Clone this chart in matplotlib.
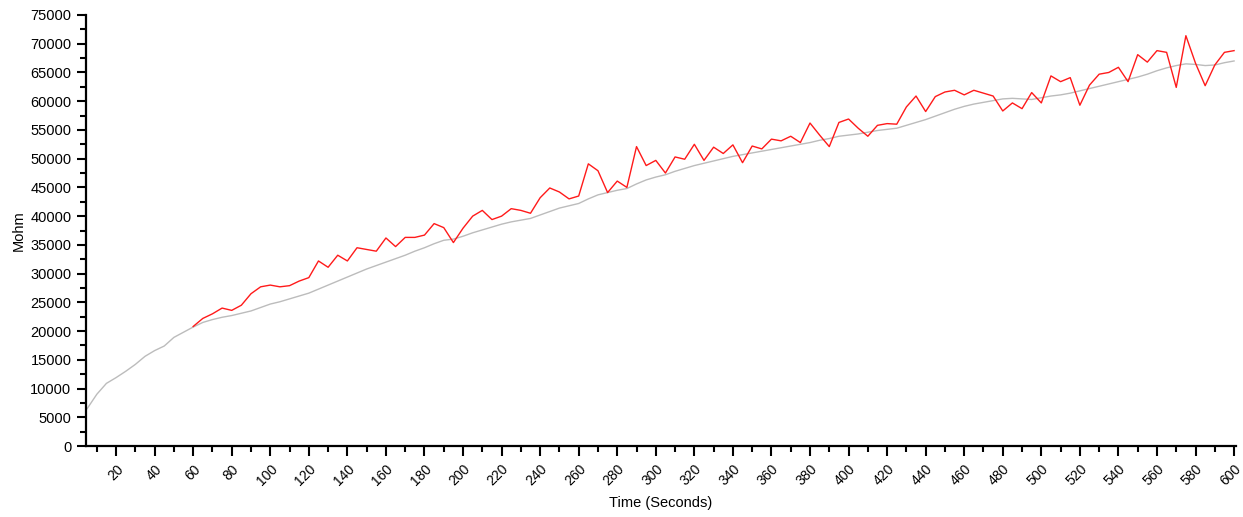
import matplotlib
matplotlib.use("Agg")
import matplotlib.pyplot as plt
from matplotlib.ticker import MultipleLocator
import numpy as np

# ---- data (thousands of Mohm) ----
gray_time = list(range(5, 601, 5))
gray_vals_k = [
    6.5, 9.0, 10.9, 11.9, 13.0, 14.2, 15.6, 16.6, 17.4, 18.9,
    19.8, 20.7, 21.5, 22.0, 22.4, 22.7, 23.1, 23.5, 24.1, 24.7,
    25.1, 25.6, 26.1, 26.6, 27.3, 28.0, 28.7, 29.4, 30.1, 30.8,
    31.4, 32.0, 32.6, 33.2, 33.9, 34.5, 35.2, 35.8, 36.0, 36.5,
    37.1, 37.6, 38.1, 38.6, 39.0, 39.3, 39.6, 40.2, 40.8, 41.4,
    41.8, 42.2, 43.0, 43.7, 44.1, 44.5, 44.8, 45.6, 46.3, 46.8,
    47.2, 47.8, 48.3, 48.8, 49.2, 49.6, 50.0, 50.4, 50.7, 51.0,
    51.3, 51.6, 51.9, 52.2, 52.5, 52.8, 53.2, 53.5, 53.9, 54.1,
    54.3, 54.6, 54.9, 55.1, 55.3, 55.8, 56.3, 56.8, 57.4, 58.0,
    58.6, 59.1, 59.5, 59.8, 60.1, 60.4, 60.5, 60.4, 60.3, 60.6,
    60.9, 61.1, 61.4, 61.8, 62.2, 62.6, 63.0, 63.4, 63.8, 64.2,
    64.7, 65.3, 65.8, 66.2, 66.5, 66.4, 66.2, 66.3, 66.7, 67.0,
]

red_time = list(range(60, 601, 5))
red_vals_k = [
    20.8, 22.2, 23.0, 24.0, 23.6, 24.5, 26.5, 27.7, 28.0,
    27.7, 27.9, 28.7, 29.3, 32.2, 31.1, 33.2, 32.2, 34.5, 34.2,
    33.9, 36.2, 34.7, 36.3, 36.3, 36.7, 38.7, 38.0, 35.4, 37.9,
    40.0, 41.0, 39.4, 40.0, 41.3, 41.0, 40.5, 43.2, 44.9, 44.2,
    43.0, 43.5, 49.1, 47.9, 44.1, 46.1, 45.0, 52.1, 48.8, 49.7,
    47.5, 50.3, 49.9, 52.5, 49.7, 52.0, 50.9, 52.4, 49.3, 52.2,
    51.7, 53.4, 53.1, 53.9, 52.8, 56.2, 54.1, 52.1, 56.3, 56.9,
    55.3, 53.9, 55.8, 56.1, 56.0, 59.0, 60.9, 58.2, 60.8, 61.6,
    61.9, 61.1, 61.9, 61.4, 60.9, 58.3, 59.7, 58.7, 61.5, 59.7,
    64.4, 63.4, 64.1, 59.3, 62.8, 64.7, 65.0, 65.9, 63.4, 68.1,
    66.8, 68.8, 68.5, 62.4, 71.4, 66.6, 62.7, 66.3, 68.5, 68.8,
]

x_label = "Time (Seconds)"
y_label = "Mohm"

gray_vals = np.array(gray_vals_k) * 1000
red_vals = np.array(red_vals_k) * 1000

W, H = 1243, 517
fig = plt.figure(figsize=(W / 100, H / 100), dpi=100)
ax = fig.add_axes([86 / W, 1 - 446 / H, (1236 - 86) / W, (446 - 15) / H])

font = ["Liberation Sans", "DejaVu Sans"]

ax.plot(gray_time, gray_vals, color="#bcbcbc", lw=1.0, zorder=2)
ax.plot(red_time, red_vals, color="#ff1a1a", lw=1.0, zorder=3)

ax.set_xlim(4.4, 601)
ax.set_ylim(0, 75000)

for s in ["top", "right"]:
    ax.spines[s].set_visible(False)
for s in ["left", "bottom"]:
    ax.spines[s].set_linewidth(1.6)
    ax.spines[s].set_color("black")

ax.xaxis.set_major_locator(MultipleLocator(20))
ax.xaxis.set_minor_locator(MultipleLocator(10))
ax.yaxis.set_major_locator(MultipleLocator(5000))
ax.yaxis.set_minor_locator(MultipleLocator(2500))

ax.tick_params(axis="y", which="major", direction="out", length=6.5, width=1.5, color="black", pad=4)
ax.tick_params(axis="y", which="minor", direction="out", length=4.5, width=1.5, color="black")
ax.tick_params(axis="x", which="major", direction="out", length=7.5, width=1.5, color="black", pad=4)
ax.tick_params(axis="x", which="minor", direction="out", length=4.5, width=1.5, color="black")

ax.set_yticks(np.arange(0, 75001, 5000))
ax.set_yticklabels([str(v) for v in range(0, 75001, 5000)], fontsize=10.5, family=font)

xt = list(range(20, 601, 20))
ax.set_xticks(xt)
ax.set_xticklabels([str(v) for v in xt], fontsize=10, family=font,
                   rotation=45, ha="right", va="top", rotation_mode="anchor")

ax.set_xlabel(x_label, fontsize=10.5, family=font, labelpad=5.5)
ax.set_ylabel(y_label, fontsize=10.5, family=font, labelpad=3)

fig.savefig("out.png", dpi=100)
